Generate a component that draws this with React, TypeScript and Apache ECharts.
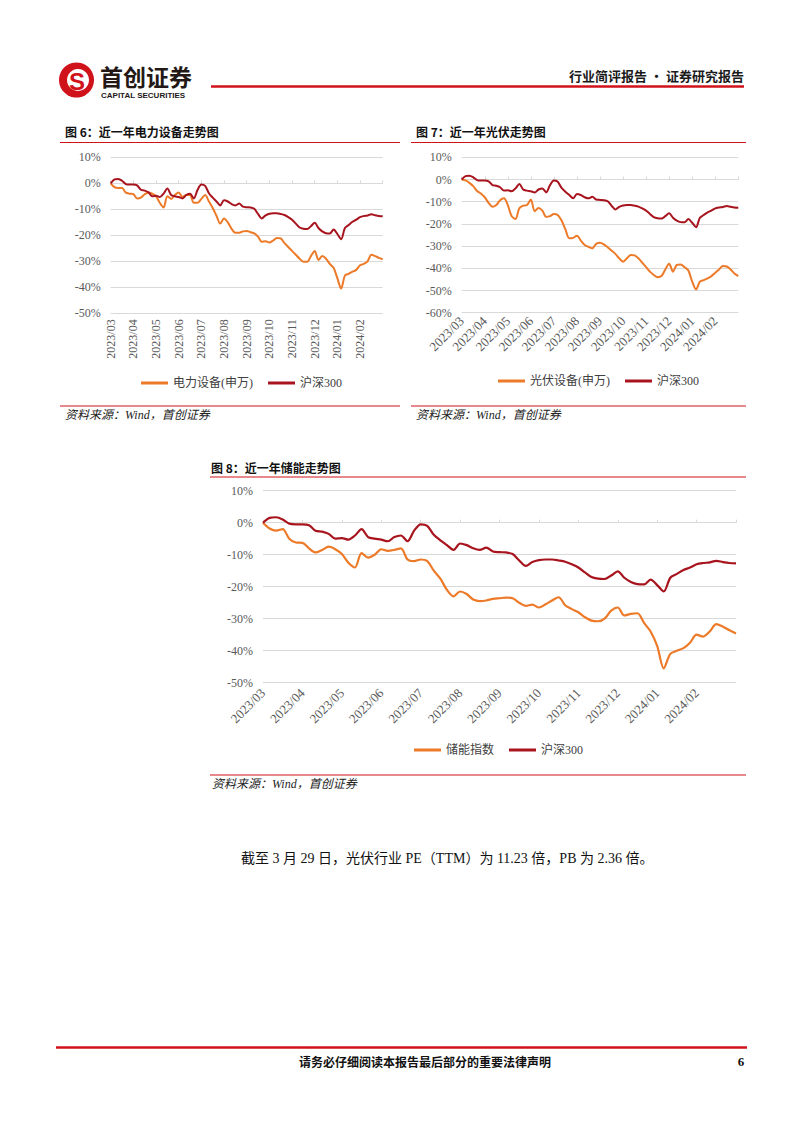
import React, { useEffect, useRef } from "react";
import * as echarts from "echarts";

const MONTHS = [
  "2023/03", "2023/04", "2023/05", "2023/06", "2023/07", "2023/08",
  "2023/09", "2023/10", "2023/11", "2023/12", "2024/01", "2024/02",
];

// 73 points (6 per month), % change since start
const HS300 = [
  0, 1.5, 1.7, 1.0, -0.3, -0.5, -0.5, -0.8, -2.5, -2.8,
  -3.5, -5.0, -4.8, -5.3, -4.0, -2.0, -4.5, -5.0, -5.3, -5.8,
  -4.5, -4.0, -5.8, -2.5, -0.5, -1.0, -3.8, -5.5, -7.0, -8.5,
  -6.5, -7.0, -8.0, -8.5, -7.8, -9.0, -9.2, -9.3, -9.8, -11.8,
  -13.5, -12.3, -11.7, -11.5, -11.5, -11.8, -12.2, -13.0, -14.0, -15.5,
  -17.0, -17.5, -17.6, -16.5, -15.2, -17.2, -18.5, -19.2, -19.3, -17.8,
  -19.5, -21.5, -17.2, -16.0, -14.8, -14.0, -13.0, -12.6, -12.4, -11.9,
  -12.3, -12.6, -12.7,
];

const POWER = [
  0, -1.5, -1.8, -1.8, -3.6, -4.0, -4.2, -5.8, -5.5, -4.2,
  -3.5, -4.0, -5.0, -7.5, -9.3, -5.0, -6.0, -4.5, -3.5, -5.3,
  -4.5, -4.5, -7.5, -7.5, -6.0, -4.5, -7.0, -9.5, -12.5, -15.5,
  -13.5, -15.0, -17.5, -19.0, -19.0, -18.5, -18.3, -18.8, -19.3, -20.5,
  -22.5, -22.3, -22.8, -22.0, -21.0, -21.2, -23.0, -24.5, -26.0, -27.5,
  -29.0, -30.2, -30.2, -28.0, -26.0, -29.5, -28.0, -29.0, -31.0, -32.5,
  -36.5, -40.5, -35.5, -34.8, -34.0, -33.3, -31.5, -31.0, -30.0, -27.5,
  -28.0, -28.7, -29.2,
];

const PV = [
  0, -0.4, -1.5, -3.0, -5.2, -6.3, -8.0, -10.5, -12.3, -11.5,
  -9.3, -8.5, -11.5, -16.5, -17.8, -13.0, -11.8, -11.5, -9.0, -14.3,
  -12.8, -14.0, -16.8, -16.5, -15.5, -16.0, -18.5, -22.5, -26.5, -26.3,
  -25.3, -27.5, -29.5, -30.3, -31.0, -29.0, -28.5, -29.2, -30.5, -32.0,
  -33.5, -35.5, -37.0, -35.5, -34.0, -34.2, -35.5, -37.5, -39.5, -41.5,
  -43.0, -44.0, -43.5, -40.5, -38.0, -41.5, -38.5, -38.3, -39.5, -41.0,
  -46.0, -49.5, -46.0, -45.3, -44.5, -43.5, -42.0, -40.5, -39.0, -39.2,
  -40.5, -42.3, -43.5,
];

const STORAGE = [
  0, -1.8, -2.5, -2.0, -5.0, -6.2, -6.3, -8.0, -9.3, -8.5,
  -7.5, -8.3, -9.8, -12.5, -14.0, -9.5, -10.9, -10.0, -8.3, -8.8,
  -8.5, -8.0, -11.5, -12.0, -11.5, -12.0, -15.0, -17.5, -21.0, -23.0,
  -21.5, -22.3, -24.0, -24.5, -24.3, -23.8, -23.6, -23.4, -23.6, -25.0,
  -26.0, -25.6, -26.5, -25.5, -24.3, -23.3, -25.8, -27.0, -28.0, -29.5,
  -30.6, -30.8, -30.0, -27.5, -26.5, -29.0, -28.5, -28.3, -31.3, -34.0,
  -38.5, -45.5, -41.0, -40.0, -39.2, -37.5, -35.0, -35.6, -34.0, -31.7,
  -32.5, -33.6, -34.6,
];

const NAME_POWER = "电力设备(申万)";
const NAME_PV = "光伏设备(申万)";
const NAME_STORAGE = "储能指数";
const NAME_HS = "沪深300";

const ORANGE = "#EC7A28";
const DARKRED = "#A8141E";
const RED = "#D0121B";
const GRIDC = "#D9D9D9";
const LABELC = "#595959";
const SERIF = '"Liberation Serif", "Noto Sans CJK SC", serif';
const CJK = '"Noto Sans CJK SC", sans-serif';

export default function App() {
  const ref = useRef<HTMLDivElement>(null);

  useEffect(() => {
    if (!ref.current) return;
    const chart = echarts.init(ref.current, null, { renderer: "svg" });

    const grids = [
      { left: 110.7, top: 157.3, width: 272, height: 156 },
      { left: 461.7, top: 157.3, width: 276.6, height: 155.4 },
      { left: 263, top: 490.7, width: 473, height: 192 },
    ];
    const rotations = [90, 45, 45];
    const margins = [6, 6, 8];
    const xFont = [12, 13, 13];
    const yMins = [-50, -60, -50];

    const labelAxes = grids.map((_, g) => ({
      type: "value",
      gridIndex: g,
      min: 0,
      max: 72,
      interval: 6,
      axisLine: { show: false, onZero: false },
      axisTick: { show: false },
      splitLine: { show: false },
      axisLabel: {
        rotate: rotations[g],
        margin: margins[g],
        fontFamily: SERIF,
        fontSize: xFont[g],
        color: LABELC,
        formatter: (v: number) => MONTHS[Math.round(v / 6)] ?? "",
      },
    }));
    const tickAxes = grids.map((_, g) => ({
      type: "value",
      gridIndex: g,
      min: 0,
      max: 72,
      interval: 6,
      axisLine: { show: true, onZero: true, lineStyle: { color: GRIDC, width: 1 } },
      axisTick: { show: true, length: 3, lineStyle: { color: GRIDC } },
      axisLabel: { show: false },
      splitLine: { show: false },
    }));

    const yAxes = grids.map((_, g) => ({
      type: "value",
      gridIndex: g,
      min: yMins[g],
      max: 10,
      interval: 10,
      axisLine: { show: false },
      axisTick: { show: false },
      splitLine: { lineStyle: { color: GRIDC, width: 1 } },
      axisLabel: {
        formatter: "{value}%",
        margin: 10,
        fontFamily: SERIF,
        fontSize: 12,
        color: LABELC,
      },
    }));

    const mk = (name: string, vals: number[], g: number, color: string, w: number) => ({
      type: "line",
      name,
      xAxisIndex: g,
      yAxisIndex: g,
      data: vals.map((v, i) => [i, v]),
      symbol: "none",
      smooth: 0.3,
      color,
      lineStyle: { color, width: w },
      z: name === NAME_HS ? 3 : 2,
    });

    const series = [
      mk(NAME_POWER, POWER, 0, ORANGE, 2),
      mk(NAME_HS, HS300, 0, DARKRED, 2),
      mk(NAME_PV, PV, 1, ORANGE, 2),
      mk(NAME_HS, HS300, 1, DARKRED, 2),
      mk(NAME_STORAGE, STORAGE, 2, ORANGE, 2.2),
      mk(NAME_HS, HS300, 2, DARKRED, 2.2),
    ];

    const legendBase = {
      itemWidth: 27,
      itemHeight: 3,
      itemGap: 15,
      icon: "rect",
      selectedMode: false,
      textStyle: { fontSize: 12, color: "#404040", fontFamily: SERIF },
    };
    const legends = [
      { ...legendBase, left: 136, top: 372, data: [NAME_POWER, NAME_HS] },
      { ...legendBase, left: 493, top: 370, data: [NAME_PV, NAME_HS] },
      { ...legendBase, left: 409, top: 739, data: [NAME_STORAGE, NAME_HS] },
    ];

    const text = (
      t: string, x: number, y: number, font: string, fill = "#000",
      align = "left"
    ) => ({
      type: "text",
      x,
      y,
      silent: true,
      style: { text: t, fill, font, align, verticalAlign: "middle" },
    });
    const hline = (x1: number, x2: number, y: number, w: number, c = RED) => ({
      type: "line",
      silent: true,
      shape: { x1, y1: y, x2, y2: y },
      style: { stroke: c, lineWidth: w },
    });

    const titleFont = `bold 12px ${CJK}`;
    const srcFont = `italic 12px ${SERIF}`;
    const SRC = "资料来源：Wind，首创证券";

    const elements = [
      // header logo
      { type: "circle", silent: true, shape: { cx: 76.5, cy: 80, r: 17.5 }, style: { fill: RED } },
      { type: "circle", silent: true, shape: { cx: 78, cy: 80, r: 11 }, style: { fill: "#fff" } },
      text("S", 77, 81, `bold 24px "Liberation Sans", sans-serif`, RED, "center"),
      text("首创证券", 100, 75.5, `bold 23px ${CJK}`, "#231815"),
      text("CAPITAL SECURITIES", 101, 95.5, `bold 8px "Liberation Sans", sans-serif`, "#231815"),
      hline(211, 744, 86.5, 2.5),
      text("行业简评报告 · 证券研究报告", 744, 75, `bold 13px ${CJK}`, "#1a1a1a", "right"),
      // chart 6 frame
      text("图 6：近一年电力设备走势图", 65, 131, titleFont, "#111"),
      hline(60, 400, 142.5, 1.2),
      hline(60, 400, 406, 1.2),
      text(SRC, 65, 415, srcFont, "#222"),
      // chart 7 frame
      text("图 7：近一年光伏走势图", 416, 131, titleFont, "#111"),
      hline(411, 746, 142.5, 1.2),
      hline(411, 746, 406, 1.2),
      text(SRC, 416, 415, srcFont, "#222"),
      // chart 8 frame
      text("图 8：近一年储能走势图", 211, 467, titleFont, "#111"),
      hline(210, 746, 477, 1.2),
      hline(210, 746, 775, 1.2),
      text(SRC, 212, 784, srcFont, "#222"),
      // body text
      text("截至 3 月 29 日，光伏行业 PE（TTM）为 11.23 倍，PB 为 2.36 倍。", 241, 858, `14px ${SERIF}`, "#111"),
      // footer
      hline(56, 747, 1047.5, 2.5),
      text("请务必仔细阅读本报告最后部分的重要法律声明", 425, 1061, `bold 12px ${CJK}`, "#111", "center"),
      text("6", 741, 1061, `bold 13px ${SERIF}`, "#111", "center"),
    ];

    chart.setOption({
      animation: false,
      backgroundColor: "#fff",
      grid: grids.map((g) => ({ ...g, containLabel: false })),
      xAxis: [...labelAxes, ...tickAxes],
      yAxis: yAxes,
      legend: legends,
      series,
      graphic: { elements },
    });

    return () => chart.dispose();
  }, []);

  return (
    <div
      ref={ref}
      style={{ position: "absolute", left: 0, top: 0, width: 802, height: 1133, background: "#fff" }}
    />
  );
}
